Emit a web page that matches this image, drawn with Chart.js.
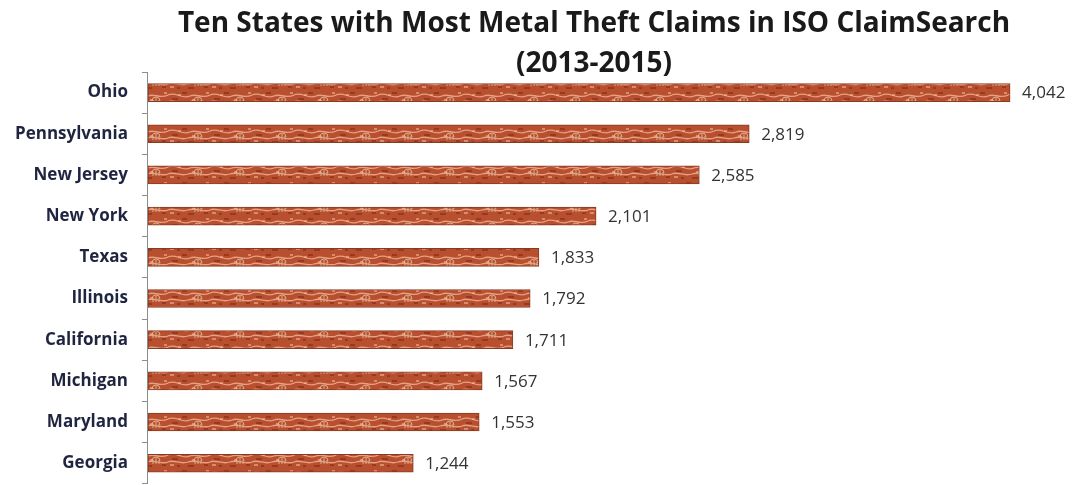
<!DOCTYPE html>
<html>
<head>
<meta charset="utf-8">
<script src="https://cdn.jsdelivr.net/npm/chart.js@4.4.0/dist/chart.umd.min.js"></script>
<style>
html,body{margin:0;padding:0;background:#fff;overflow:hidden;}
#wrap{width:1073px;height:485px;position:relative;overflow:hidden;}
</style>
</head>
<body>
<div id="wrap"><canvas id="c" width="1073" height="508"></canvas></div>
<script>
const titleLines = ["Ten States with Most Metal Theft Claims in ISO ClaimSearch", "(2013-2015)"];
const states = ["Ohio","Pennsylvania","New Jersey","New York","Texas","Illinois","California","Michigan","Maryland","Georgia"];
const claims = [4042,2819,2585,2101,1833,1792,1711,1567,1553,1244];

function makePattern(){
  const t = document.createElement('canvas');
  t.width = 42; t.height = 18;
  const g = t.getContext('2d');
  g.fillStyle = '#b8502f'; g.fillRect(0,0,42,18);
  g.strokeStyle = '#e6a084'; g.lineWidth = 1.3;
  g.beginPath();
  g.moveTo(0,5); g.bezierCurveTo(8,1,14,10,22,6); g.bezierCurveTo(28,3,34,9,42,5);
  g.moveTo(0,12); g.bezierCurveTo(6,9,12,15,20,12); g.bezierCurveTo(28,9,36,15,42,12);
  g.stroke();
  g.strokeStyle = '#dcab8a'; g.lineWidth = 1;
  g.beginPath();
  g.arc(30,11,4,Math.PI,0); g.moveTo(27,14); g.lineTo(27,10); g.moveTo(30,14); g.lineTo(30,8); g.moveTo(33,14); g.lineTo(33,10);
  g.stroke();
  g.fillStyle = 'rgba(125,40,22,0.55)';
  g.fillRect(4,8,6,2); g.fillRect(14,2,5,2); g.fillRect(36,14,4,2); g.fillRect(20,15,6,2); g.fillRect(9,15,3,2);
  g.fillStyle = 'rgba(240,190,160,0.55)';
  g.fillRect(10,4,3,2); g.fillRect(2,14,4,2); g.fillRect(24,9,3,2); g.fillRect(38,2,3,2);
  return document.getElementById('c').getContext('2d').createPattern(t,'repeat');
}

const titlePlugin = {
  id:'titleText',
  afterDraw(chart){
    const ctx = chart.ctx;
    ctx.save();
    ctx.fillStyle = '#1a1a1a';
    ctx.font = 'bold 28px "Open Sans"';
    ctx.textAlign = 'center';
    ctx.textBaseline = 'middle';
    ctx.fillText(titleLines[0], 594, 24);
    ctx.fillText(titleLines[1], 594, 64);
    ctx.restore();
  }
};
const valuePlugin = {
  id:'values',
  afterDatasetsDraw(chart){
    const ctx = chart.ctx;
    const meta = chart.getDatasetMeta(0);
    ctx.save();
    ctx.fillStyle = '#333333';
    ctx.font = '17px "Open Sans"';
    ctx.textAlign = 'left';
    ctx.textBaseline = 'middle';
    meta.data.forEach((el,i)=>{
      ctx.fillText(claims[i].toLocaleString('en-US'), el.x + 12, el.y + 1);
    });
    ctx.restore();
  }
};

new Chart(document.getElementById('c'), {
  type:'bar',
  data:{labels:states, datasets:[{data:claims, backgroundColor:makePattern(), borderColor:'#8a3a22', borderWidth:1, borderSkipped:false, barThickness:18}]},
  options:{
    indexAxis:'y',
    responsive:false,
    animation:false,
    layout:{padding:{top:72, right:0, bottom:0, left:1}},
    plugins:{legend:{display:false}, tooltip:{enabled:false}, title:{display:false}},
    scales:{
      x:{display:false, min:0, max:4337},
      y:{
        offset:true,
        grid:{display:true, drawOnChartArea:false, drawTicks:true, tickLength:6, offset:true, color:'#8c8c8c'},
        border:{display:true, color:'#8c8c8c', width:1},
        ticks:{color:'#1f2540', font:{family:'"Open Sans"', weight:'bold', size:17}, padding:14}
      }
    }
  },
  plugins:[titlePlugin, valuePlugin]
});
</script>
</body>
</html>
